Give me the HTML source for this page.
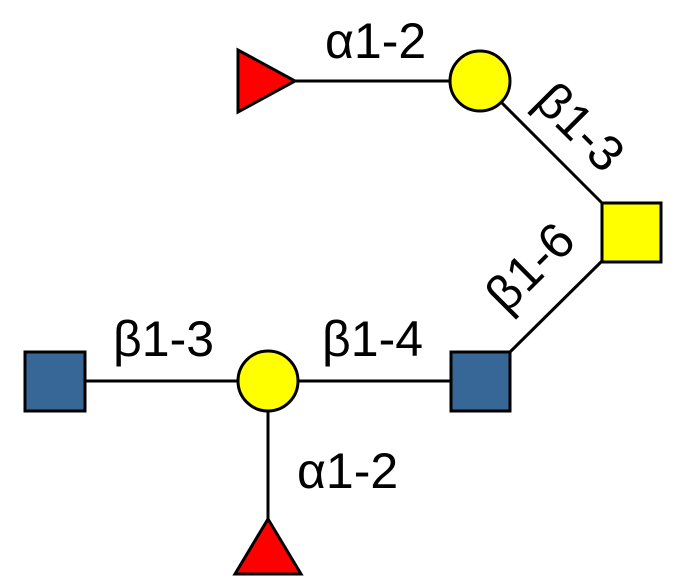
<!DOCTYPE html>
<html><head><style>body{margin:0;background:#fff}svg{display:block}</style></head>
<body>
<svg width="676" height="583" viewBox="0 0 676 583" xmlns="http://www.w3.org/2000/svg">
<g stroke="#000" stroke-width="3" fill="none">
<line x1="295" y1="81" x2="450" y2="81"/>
<line x1="480" y1="81" x2="602" y2="203"/>
<line x1="602" y1="261" x2="510" y2="352"/>
<line x1="86" y1="381" x2="450" y2="381"/>
<line x1="268" y1="381" x2="268" y2="520"/>
</g>
<g stroke="#000" stroke-width="3">
<polygon points="238,50 238,112 295,81" fill="#f00"/>
<circle cx="480" cy="81" r="30" fill="#ff0"/>
<rect x="602" y="203" width="59" height="59" fill="#ff0"/>
<rect x="451" y="352" width="59" height="59" fill="#376797"/>
<rect x="25" y="352" width="60" height="59" fill="#376797"/>
<circle cx="268" cy="381" r="30" fill="#ff0"/>
<polygon points="268,519 235,574 301,574" fill="#f00"/>
</g>
<g font-family="Liberation Sans, sans-serif" font-size="50" fill="#000">
<text x="325" y="58">α1-2</text>
<text x="113" y="356">β1-3</text>
<text x="322" y="356">β1-4</text>
<text x="297" y="488">α1-2</text>
<text transform="translate(580,127) rotate(45)" text-anchor="middle" dy="17">β1-3</text>
<text transform="translate(530,267) rotate(-45)" text-anchor="middle" dy="17">β1-6</text>
</g>
</svg>
</body></html>
